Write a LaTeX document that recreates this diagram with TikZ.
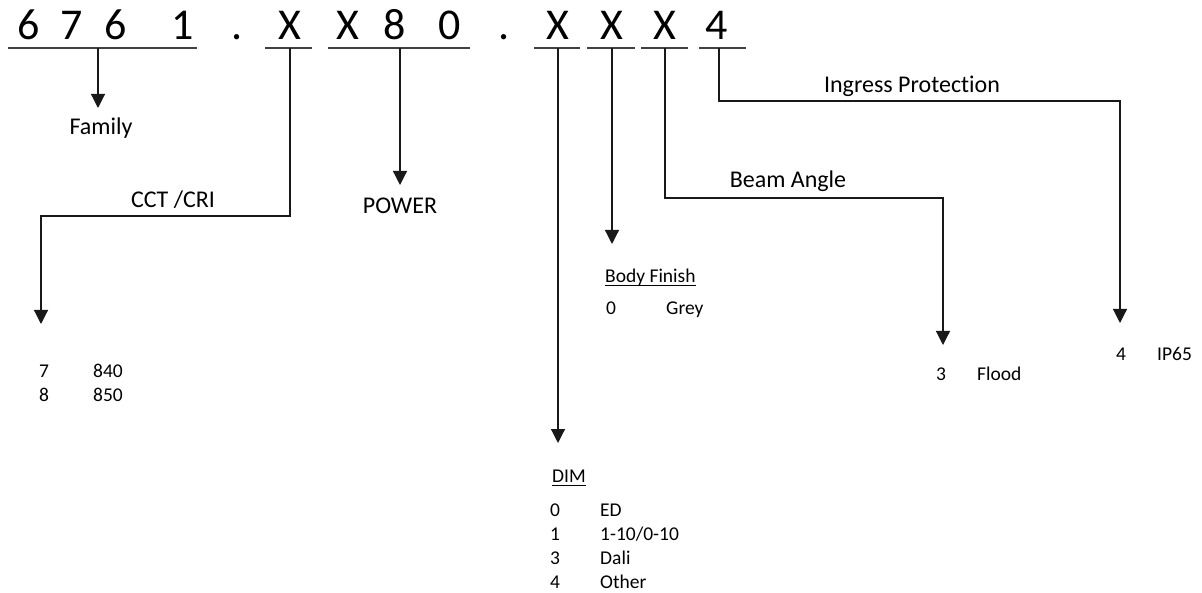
\documentclass[tikz,border=0pt]{standalone}
\usepackage{fontspec}
\setmainfont{Carlito}[Ligatures={NoCommon}]
\usetikzlibrary{arrows.meta}
\begin{document}
\begin{tikzpicture}[x=1pt,y=-1pt,
 big/.style={font=\fontsize{44}{50}\selectfont, anchor=base, inner sep=0pt},
 lbl/.style={font=\fontsize{24}{28}\selectfont, anchor=base, inner sep=0pt},
 item/.style={font=\fontsize{19.5}{24}\selectfont, anchor=base west, inner sep=0pt},
 uline/.style={line width=1.4pt, draw=black!75},
 hline/.style={line width=1pt, draw=black},
 conn/.style={line width=1.2pt, draw=black!90, -{Triangle[width=14pt,length=14pt]}},
]
\useasboundingbox (0,0) rectangle (1202,593);
% code characters
\node[big] (c1) at (29,40) {6};
\node[big] (c2) at (72,40) {7};
\node[big] (c3) at (116,40) {6};
\node[big] (c4) at (183,40) {1};
\node[big] (d1) at (237,40) {.};
\node[big] (c5) at (290,40) {X};
\node[big] (c6) at (348,40) {X};
\node[big] (c7) at (395,40) {8};
\node[big] (c8) at (450,40) {0};
\node[big] (d2) at (504,40) {.};
\node[big] (c9) at (558,40) {X};
\node[big] (c10) at (612,40) {X};
\node[big] (c11) at (665,40) {X};
\node[big] (c12) at (717,40) {4};
% underlines
\coordinate (u1a) at (8,48);   \coordinate (u1b) at (197,48);
\coordinate (u2a) at (265,48); \coordinate (u2b) at (312,48);
\coordinate (u3a) at (328,48); \coordinate (u3b) at (470,48);
\coordinate (u4a) at (534,48); \coordinate (u4b) at (580,48);
\coordinate (u5a) at (587,48); \coordinate (u5b) at (635,48);
\coordinate (u6a) at (641,48); \coordinate (u6b) at (688,48);
\coordinate (u7a) at (699,48); \coordinate (u7b) at (746,48);
\foreach \i in {1,...,7} \draw[uline] (u\i a) -- (u\i b);
% connector start points
\coordinate (sFam) at (98,48);
\coordinate (sCct) at (290,48);
\coordinate (sPow) at (400,48);
\coordinate (sDim) at (558,48);
\coordinate (sBody) at (612,48);
\coordinate (sBeam) at (665,48);
\coordinate (sIng) at (719,48);
% connector end points
\coordinate (eFam) at (98,108);
\coordinate (kCct1) at (290,216); \coordinate (kCct2) at (41,216);
\coordinate (eCct) at (41,324);
\coordinate (ePow) at (400,185);
\coordinate (eDim) at (558,443);
\coordinate (eBody) at (612,244);
\coordinate (kBeam1) at (665,198); \coordinate (kBeam2) at (943,198);
\coordinate (eBeam) at (943,345);
\coordinate (kIng1) at (719,101); \coordinate (kIng2) at (1120,101);
\coordinate (eIng) at (1120,323);
\draw[conn] (sFam) -- (eFam);
\draw[conn] (sCct) -- (kCct1) -- (kCct2) -- (eCct);
\draw[conn] (sPow) -- (ePow);
\draw[conn] (sDim) -- (eDim);
\draw[conn] (sBody) -- (eBody);
\draw[conn] (sBeam) -- (kBeam1) -- (kBeam2) -- (eBeam);
\draw[conn] (sIng) -- (kIng1) -- (kIng2) -- (eIng);
% labels
\node[lbl] (lFam) at (101,135) {Family};
\node[lbl] (lCct) at (173,208) {CCT /CRI};
\node[lbl] (lPow) at (400,214) {POWER};
\node[lbl] (lBeam) at (788,188) {Beam Angle};
\node[lbl] (lIng) at (912,93) {Ingress Protection};
% CCT list
\node[item] (cct7) at (39,378) {7};
\node[item] (cct7v) at (93,378) {840};
\node[item] (cct8) at (39,402) {8};
\node[item] (cct8v) at (93,402) {850};
% Body finish
\node[item] (bf) at (605,283) {Body Finish};
\draw[hline] ([yshift=-3pt]bf.base west) -- ([yshift=-3pt]bf.base east);
\node[item] (bf0) at (606,315) {0};
\node[item] (bf0v) at (666,315) {Grey};
% DIM
\node[item] (dim) at (552,482) {DIM};
\draw[hline] ([yshift=-3pt]dim.base west) -- ([yshift=-3pt]dim.base east);
\node[item] (dim0) at (550,516) {0};
\node[item] (dim0v) at (600,516) {ED};
\node[item] (dim1) at (550,540) {1};
\node[item] (dim1v) at (600,540) {1-10/0-10};
\node[item] (dim3) at (550,564) {3};
\node[item] (dim3v) at (600,564) {Dali};
\node[item] (dim4) at (550,588) {4};
\node[item] (dim4v) at (600,588) {Other};
% Beam angle
\node[item] (ba3) at (936,381) {3};
\node[item] (ba3v) at (977,381) {Flood};
% Ingress
\node[item] (ip4) at (1116,361) {4};
\node[item] (ip4v) at (1157,361) {IP65};
\end{tikzpicture}
\end{document}
